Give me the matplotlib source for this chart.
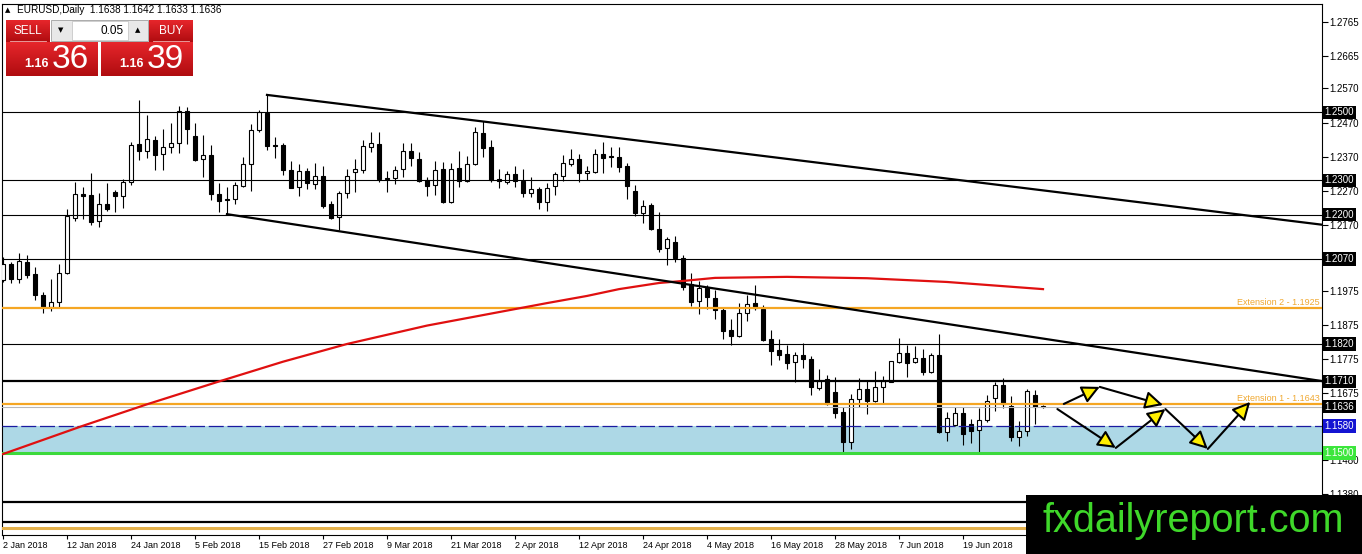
import matplotlib
matplotlib.use("Agg")
import matplotlib.pyplot as plt
import numpy as np
from matplotlib.patches import Rectangle
from matplotlib.colors import LinearSegmentedColormap

# --------------------------------------------------------
# 1. Data (EURUSD daily)
# --------------------------------------------------------
opens = [1.2008, 1.2055, 1.2010, 1.2061, 1.2025, 1.1964, 1.1929, 1.1942, 1.2027, 1.2191,
         1.2259, 1.2257, 1.2181, 1.2232, 1.2265, 1.2255, 1.2294, 1.2407, 1.2387, 1.2420,
         1.2379, 1.2397, 1.2409, 1.2504, 1.2430, 1.2362, 1.2374, 1.2260, 1.2245, 1.2245,
         1.2284, 1.2348, 1.2448, 1.2499, 1.2403, 1.2404, 1.2331, 1.2280, 1.2328, 1.2289,
         1.2313, 1.2230, 1.2192, 1.2262, 1.2324, 1.2331, 1.2399, 1.2407, 1.2306, 1.2306,
         1.2333, 1.2386, 1.2363, 1.2301, 1.2287, 1.2334, 1.2236, 1.2336, 1.2298, 1.2347,
         1.2438, 1.2397, 1.2303, 1.2294, 1.2318, 1.2298, 1.2264, 1.2274, 1.2238, 1.2284,
         1.2314, 1.2348, 1.2362, 1.2321, 1.2326, 1.2377, 1.2371, 1.2368, 1.2342, 1.2269,
         1.2203, 1.2228, 1.2158, 1.2101, 1.2118, 1.2071, 1.1995, 1.1947, 1.1985, 1.1956,
         1.1920, 1.1861, 1.1844, 1.1912, 1.1939, 1.1923, 1.1835, 1.1802, 1.1791, 1.1766,
         1.1788, 1.1775, 1.1690, 1.1716, 1.1680, 1.1621, 1.1533, 1.1658, 1.1688, 1.1654,
         1.1693, 1.1709, 1.1768, 1.1795, 1.1768, 1.1778, 1.1739, 1.1788, 1.1563, 1.1582,
         1.1616, 1.1584, 1.1568, 1.1597, 1.1661, 1.1700, 1.1638, 1.1546, 1.1565, 1.1670,
         1.1638]
highs = [1.2076, 1.2061, 1.2086, 1.2081, 1.2047, 1.1973, 1.2012, 1.2055, 1.2215, 1.2296,
         1.2281, 1.2322, 1.2262, 1.2291, 1.2272, 1.2303, 1.2413, 1.2536, 1.2492, 1.2430,
         1.2450, 1.2470, 1.2518, 1.2516, 1.2470, 1.2433, 1.2404, 1.2291, 1.2281, 1.2296,
         1.2369, 1.2467, 1.2506, 1.2550, 1.2428, 1.2411, 1.2357, 1.2347, 1.2336, 1.2352,
         1.2342, 1.2240, 1.2269, 1.2333, 1.2362, 1.2419, 1.2441, 1.2443, 1.2329, 1.2342,
         1.2409, 1.2411, 1.2382, 1.2309, 1.2357, 1.2353, 1.2352, 1.2386, 1.2372, 1.2458,
         1.2473, 1.2419, 1.2333, 1.2328, 1.2343, 1.2333, 1.2311, 1.2282, 1.2292, 1.2326,
         1.2375, 1.2391, 1.2378, 1.2342, 1.2392, 1.2412, 1.2397, 1.2397, 1.2350, 1.2287,
         1.2243, 1.2233, 1.2208, 1.2133, 1.2137, 1.2081, 1.2027, 1.2005, 1.1993, 1.1977,
         1.1930, 1.1892, 1.1941, 1.1964, 1.1993, 1.1935, 1.1861, 1.1834, 1.1817, 1.1797,
         1.1824, 1.1785, 1.1746, 1.1729, 1.1722, 1.1634, 1.1673, 1.1719, 1.1712, 1.1741,
         1.1727, 1.1771, 1.1837, 1.1817, 1.1814, 1.1804, 1.1795, 1.1849, 1.1621, 1.1634,
         1.1636, 1.1599, 1.1631, 1.1670, 1.1709, 1.1719, 1.1667, 1.1595, 1.1688, 1.1685,
         1.1642]
lows = [1.2003, 1.1998, 1.2000, 1.2015, 1.1949, 1.1912, 1.1918, 1.1927, 1.2025, 1.2182,
        1.2188, 1.2169, 1.2162, 1.2211, 1.2208, 1.2218, 1.2286, 1.2360, 1.2365, 1.2332,
        1.2332, 1.2381, 1.2381, 1.2407, 1.2358, 1.2309, 1.2242, 1.2208, 1.2201, 1.2232,
        1.2281, 1.2270, 1.2443, 1.2389, 1.2365, 1.2316, 1.2277, 1.2255, 1.2274, 1.2274,
        1.2218, 1.2186, 1.2155, 1.2248, 1.2265, 1.2321, 1.2382, 1.2294, 1.2267, 1.2289,
        1.2311, 1.2343, 1.2296, 1.2255, 1.2257, 1.2235, 1.2235, 1.2280, 1.2296, 1.2345,
        1.2370, 1.2296, 1.2277, 1.2290, 1.2280, 1.2250, 1.2252, 1.2215, 1.2211, 1.2257,
        1.2299, 1.2342, 1.2294, 1.2301, 1.2321, 1.2321, 1.2340, 1.2326, 1.2246, 1.2196,
        1.2176, 1.2155, 1.2091, 1.2052, 1.2060, 1.1977, 1.1932, 1.1907, 1.1922, 1.1892,
        1.1834, 1.1817, 1.1840, 1.1886, 1.1920, 1.1830, 1.1758, 1.1773, 1.1746, 1.1709,
        1.1750, 1.1670, 1.1685, 1.1641, 1.1602, 1.1504, 1.1511, 1.1636, 1.1614, 1.1651,
        1.1648, 1.1708, 1.1765, 1.1722, 1.1765, 1.1729, 1.1734, 1.1558, 1.1536, 1.1579,
        1.1524, 1.1530, 1.1499, 1.1592, 1.1624, 1.1631, 1.1536, 1.1521, 1.1550, 1.1585,
        1.1633]
closes = [1.2055, 1.2010, 1.2064, 1.2022, 1.1964, 1.1929, 1.1942, 1.2027, 1.2195, 1.2259,
          1.2254, 1.2179, 1.2232, 1.2215, 1.2255, 1.2294, 1.2404, 1.2387, 1.2423, 1.2376,
          1.2397, 1.2409, 1.2504, 1.2450, 1.2360, 1.2374, 1.2259, 1.2240, 1.2242, 1.2288,
          1.2348, 1.2448, 1.2501, 1.2402, 1.2400, 1.2331, 1.2279, 1.2328, 1.2292, 1.2313,
          1.2225, 1.2189, 1.2262, 1.2313, 1.2333, 1.2401, 1.2409, 1.2304, 1.2303, 1.2331,
          1.2386, 1.2365, 1.2298, 1.2285, 1.2331, 1.2238, 1.2333, 1.2298, 1.2347, 1.2441,
          1.2396, 1.2301, 1.2299, 1.2319, 1.2298, 1.2264, 1.2274, 1.2238, 1.2277, 1.2318,
          1.2350, 1.2362, 1.2323, 1.2328, 1.2378, 1.2365, 1.2369, 1.2340, 1.2285, 1.2203,
          1.2226, 1.2157, 1.2098, 1.2128, 1.2073, 1.1988, 1.1944, 1.1985, 1.1957, 1.1920,
          1.1859, 1.1844, 1.1912, 1.1936, 1.1927, 1.1832, 1.1800, 1.1788, 1.1765, 1.1788,
          1.1775, 1.1693, 1.1712, 1.1644, 1.1618, 1.1533, 1.1658, 1.1687, 1.1654, 1.1693,
          1.1711, 1.1770, 1.1793, 1.1763, 1.1778, 1.1739, 1.1788, 1.1563, 1.1602, 1.1616,
          1.1556, 1.1566, 1.1597, 1.1653, 1.1700, 1.1644, 1.1548, 1.1565, 1.1682, 1.1634,
          1.1636]

# red moving average, sampled by bar index
ma_bars = [0, 10, 18, 27, 35, 43, 53, 63, 68, 73, 77, 82, 85, 89, 98, 108, 118, 130]
ma_vals = [1.1497, 1.1580, 1.1643, 1.1710, 1.1768, 1.1820, 1.1874, 1.1918, 1.1940,
           1.1961, 1.1981, 1.1999, 1.2005, 1.2014, 1.2017, 1.2013, 1.2002, 1.1981]

# date labels every 8 bars
date_bars = [0, 8, 16, 24, 32, 40, 48, 56, 64, 72, 80, 88, 96, 104, 112, 120]
date_labels = ["2 Jan 2018", "12 Jan 2018", "24 Jan 2018", "5 Feb 2018", "15 Feb 2018",
               "27 Feb 2018", "9 Mar 2018", "21 Mar 2018", "2 Apr 2018", "12 Apr 2018",
               "24 Apr 2018", "4 May 2018", "16 May 2018", "28 May 2018", "7 Jun 2018",
               "19 Jun 2018"]

price_ticks = [1.2765, 1.2665, 1.2570, 1.2470, 1.2370, 1.2270, 1.2170,
               1.1975, 1.1875, 1.1775, 1.1675, 1.1480, 1.1380]

# horizontal levels
black_levels = [1.2500, 1.2300, 1.2200, 1.2070, 1.1820]
bold_levels = [1.1710, 1.1357, 1.1298]
ext_levels = [1.1925, 1.1643]
ext_labels = ["Extension 2 - 1.1925", "Extension 1 - 1.1643"]
bid_price = 1.1636
zone_low, zone_high = 1.1500, 1.1580
tan_level = 1.1281

# trend channel anchors (bar, price)
upper_trend = [(33, 1.2551), (164.9, 1.2170)]
lower_trend = [(28, 1.2201), (164.9, 1.1711)]

# projected zigzag arrows (bar, price)
arrow_paths = [
    [(132.6, 1.1644), (137.1, 1.1694), (145.0, 1.1641)],
    [(131.8, 1.1629), (139.1, 1.1515), (145.3, 1.1629), (150.6, 1.1512), (155.9, 1.1650)],
]

# boxed price labels on the right axis
box_prices = [1.2500, 1.2300, 1.2200, 1.2070, 1.1820, 1.1710, 1.1636, 1.1580, 1.1500]
box_colors = ["black"] * 7 + ["#1414d2", "#3ce63c"]

# --------------------------------------------------------
# 2. Figure / axes
# --------------------------------------------------------
W, H = 1362, 554
plt.rcParams['font.family'] = ['Liberation Sans', 'DejaVu Sans']
fig = plt.figure(figsize=(W / 100, H / 100), dpi=100)
ax = fig.add_axes([2 / W, (H - 535) / H, 1320 / W, 531 / H])
ax.set_xlim(-0.125, 164.875)
ax.set_ylim(1.12594, 1.28178)

# zone + levels
ax.axhspan(zone_low, zone_high, color="#add8e6", zorder=1, lw=0)
for lv in black_levels:
    ax.axhline(lv, color="black", lw=0.8, zorder=4)
for lv in bold_levels:
    ax.axhline(lv, color="black", lw=1.6, zorder=4)
for lv, lab in zip(ext_levels, ext_labels):
    ax.axhline(lv, color="#f5a623", lw=1.6, zorder=4)
    ax.text(164.6, lv + 0.0004, lab, color="#f0a830", fontsize=6.5,
            ha="right", va="bottom", zorder=5)
ax.axhline(tan_level, color="#e3b04b", lw=2.2, zorder=4)
ax.axhline(bid_price, color="#b8b8b8", lw=0.8, zorder=4)
ax.axhline(zone_high, color="#1a1aa0", lw=0.9, ls=(0, (12, 3)), zorder=4)
ax.axhline(zone_low, color="#3cd93c", lw=2.2, zorder=4)

# candles
x = np.arange(len(opens))
o = np.array(opens)
c = np.array(closes)
ax.vlines(x, lows, highs, color="black", lw=0.8, zorder=2)
up = c >= o
body_lo = np.minimum(o, c)
body_h = np.maximum(np.abs(c - o), 0.00005)
ax.bar(x[up], body_h[up], bottom=body_lo[up], width=0.62, color="white",
       edgecolor="black", lw=0.8, zorder=3)
ax.bar(x[~up], body_h[~up], bottom=body_lo[~up], width=0.62, color="black",
       edgecolor="black", lw=0.8, zorder=3)

# moving average
ax.plot(ma_bars, ma_vals, color="#e01010", lw=1.6, zorder=5)

# trend channel
for pts in (upper_trend, lower_trend):
    ax.plot([pts[0][0], pts[1][0]], [pts[0][1], pts[1][1]], color="black", lw=1.6, zorder=5)

# zigzag arrows
for path in arrow_paths:
    for a, b in zip(path[:-1], path[1:]):
        ax.annotate("", xy=b, xytext=a, zorder=6,
                    arrowprops=dict(arrowstyle="-|>,head_length=0.9,head_width=0.45",
                                    mutation_scale=12, lw=1.5, ec="black",
                                    fc="#ffee00", shrinkA=0, shrinkB=0))

# axes styling
for s in ax.spines.values():
    s.set_linewidth(0.8)
ax.yaxis.tick_right()
ax.set_yticks(price_ticks)
ax.set_yticklabels([f"{p:.4f}" for p in price_ticks])
ax.set_xticks(date_bars)
ax.set_xticklabels(date_labels, ha="left")
ax.tick_params(axis="y", length=4, width=0.8, labelsize=7, pad=1)
ax.tick_params(axis="x", length=3, width=0.8, labelsize=6.5, pad=1)

ytr = ax.get_yaxis_transform()
for p, col in zip(box_prices, box_colors):
    ax.text(1.0018, p, f"{p:.4f}", transform=ytr, color="white", fontsize=7,
            ha="left", va="center", clip_on=False, zorder=8,
            bbox=dict(boxstyle="square,pad=0.18", fc=col, ec="none"))

# --------------------------------------------------------
# 3. Overlay: trade panel, header, watermark
# --------------------------------------------------------
ov = fig.add_axes([0, 0, 1, 1], zorder=10)
ov.set_axis_off()
ov.patch.set_alpha(0)

red_cmap = LinearSegmentedColormap.from_list("btn", ["#e6262b", "#b00c10"])
grad = np.linspace(0, 1, 32).reshape(-1, 1)


def red_box(x0, y0, x1, y1):
    ov.imshow(grad, cmap=red_cmap, extent=(x0, x1, y1, y0), aspect="auto", zorder=11)


ov.text(8, 10, "▲", fontsize=5, ha="center", va="center", family="DejaVu Sans")
ov.text(17, 10, "EURUSD,Daily  1.1638 1.1642 1.1633 1.1636", fontsize=7.2,
        ha="left", va="center")

red_box(6, 20, 50, 42)
red_box(149, 20, 193, 42)
red_box(6, 42, 98, 76)
red_box(101, 42, 193, 76)
ov.add_patch(Rectangle((51, 20), 97, 21, fc="#e8e8e8", ec="#a0a0a0", lw=0.6, zorder=11))
ov.add_patch(Rectangle((72, 21), 56, 19, fc="white", ec="#c0c0c0", lw=0.5, zorder=12))
ov.plot([10, 46], [41, 41], color="#f0b0b0", lw=0.6, zorder=12)
ov.plot([153, 189], [41, 41], color="#f0b0b0", lw=0.6, zorder=12)
ov.text(28, 31, "SELL", color="white", fontsize=8.5, ha="center", va="center", zorder=13)
ov.text(171, 31, "BUY", color="white", fontsize=8.5, ha="center", va="center", zorder=13)
ov.text(61, 30.5, "▼", fontsize=5, ha="center", va="center", family="DejaVu Sans", zorder=13)
ov.text(138, 30.5, "▲", fontsize=5, ha="center", va="center", family="DejaVu Sans", zorder=13)
ov.text(124, 30.5, "0.05", fontsize=8.5, ha="right", va="center", zorder=13)
ov.text(49, 64, "1.16", color="white", fontsize=9, fontweight="bold",
        ha="right", va="center", zorder=13)
ov.text(52, 59, "36", color="white", fontsize=24, ha="left", va="center", zorder=13)
ov.text(144, 64, "1.16", color="white", fontsize=9, fontweight="bold",
        ha="right", va="center", zorder=13)
ov.text(147, 59, "39", color="white", fontsize=24, ha="left", va="center", zorder=13)

ov.add_patch(Rectangle((1026, 495), 336, 59, fc="black", ec="none", zorder=11))
ov.text(1193, 521, "fxdailyreport.com", color="#3fd82a", fontsize=28.5,
        ha="center", va="center", zorder=12)

ov.set_xlim(0, W)
ov.set_ylim(H, 0)

# --------------------------------------------------------
# 4. Save
# --------------------------------------------------------
fig.savefig("out.png", dpi=100)
